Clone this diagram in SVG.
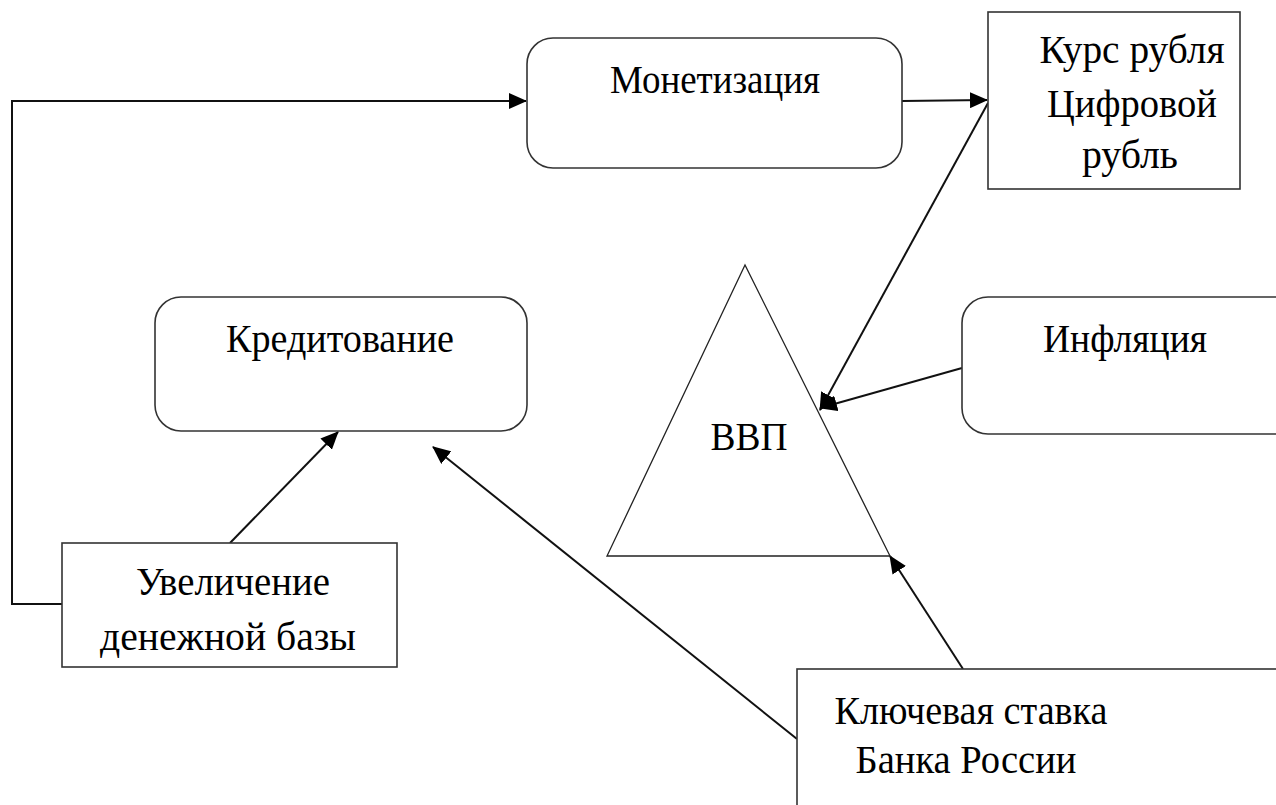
<svg xmlns="http://www.w3.org/2000/svg" width="1276" height="805" viewBox="0 0 1276 805">
<style>
.box{fill:#fff;stroke:#333;stroke-width:1.6}
.tri{fill:#fff;stroke:#222;stroke-width:1.3}
text{font-size:39px;fill:#000;text-anchor:middle}
.c{fill:none;stroke:#111;stroke-width:2}
</style>
<defs>
<marker id="ah" markerWidth="18" markerHeight="16" refX="17" refY="8" orient="auto" markerUnits="userSpaceOnUse">
<path d="M0,0 L18,8 L0,16 Z" fill="#000"/>
</marker>
</defs>
<g id="connectors">
<path class="c" d="M62,604 L12,604 L12,101 L526,101" marker-end="url(#ah)"/>
<path class="c" d="M902,101 L987,100" marker-end="url(#ah)"/>
<path class="c" d="M988,103 L820,410" marker-end="url(#ah)"/>
<path class="c" d="M962,368 L820,408" marker-end="url(#ah)"/>
<path class="c" d="M230,543 L338,432" marker-end="url(#ah)"/>
<path class="c" d="M797,739 L433,447" marker-end="url(#ah)"/>
<path class="c" d="M963,669 L890,556" marker-end="url(#ah)"/>
</g>
<g font-family="Liberation Serif, DejaVu Serif, serif">
<g id="monetization">
<rect class="box" x="527" y="38" width="375" height="130" rx="26"/>
<text x="715" y="93" textLength="210" lengthAdjust="spacingAndGlyphs">Монетизация</text>
</g>
<g id="ruble">
<rect class="box" x="988" y="12" width="252" height="177"/>
<text x="1132" y="63" textLength="185" lengthAdjust="spacingAndGlyphs">Курс рубля</text>
<text x="1132" y="117" textLength="170" lengthAdjust="spacingAndGlyphs">Цифровой</text>
<text x="1130" y="168" textLength="96" lengthAdjust="spacingAndGlyphs">рубль</text>
</g>
<g id="gdp">
<polygon class="tri" points="745,265 607,556 890,556"/>
<text x="749" y="450" textLength="77" lengthAdjust="spacingAndGlyphs">ВВП</text>
</g>
<g id="inflation">
<rect class="box" x="962" y="297" width="340" height="137" rx="26"/>
<text x="1125" y="352" textLength="164" lengthAdjust="spacingAndGlyphs">Инфляция</text>
</g>
<g id="credit">
<rect class="box" x="155" y="297" width="372" height="134" rx="26"/>
<text x="340" y="352" textLength="228" lengthAdjust="spacingAndGlyphs">Кредитование</text>
</g>
<g id="money-base">
<rect class="box" x="62" y="543" width="335" height="124"/>
<text x="233" y="595" textLength="194" lengthAdjust="spacingAndGlyphs">Увеличение</text>
<text x="228" y="650" textLength="256" lengthAdjust="spacingAndGlyphs">денежной базы</text>
</g>
<g id="key-rate">
<rect class="box" x="797" y="669" width="500" height="160"/>
<text x="971" y="724" textLength="273" lengthAdjust="spacingAndGlyphs">Ключевая ставка</text>
<text x="966" y="773" textLength="221" lengthAdjust="spacingAndGlyphs">Банка России</text>
</g>
</g>
</svg>
